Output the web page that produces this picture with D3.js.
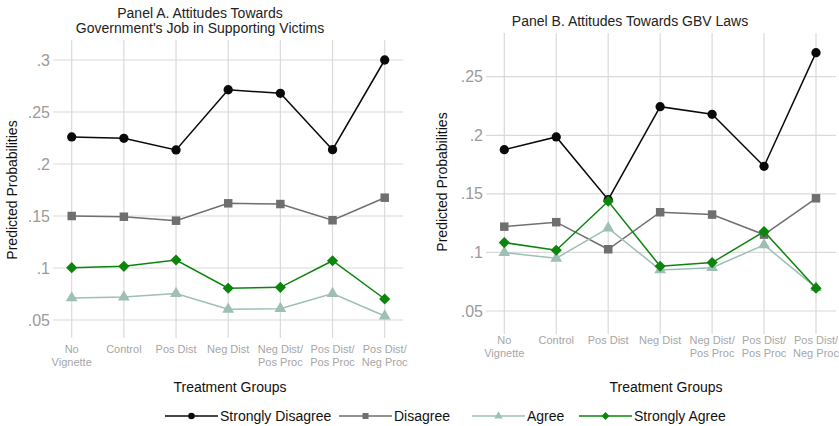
<!DOCTYPE html>
<html>
<head>
<meta charset="utf-8">
<script src="https://cdn.jsdelivr.net/npm/d3@7"></script>
<style>
  html, body { margin: 0; padding: 0; background: #fff; }
  svg { display: block; font-family: "Liberation Sans", Arial, sans-serif; }
</style>
</head>
<body>
<svg id="chart" width="839" height="426"></svg>
<script>
// Treatment groups (x categories); "\n" splits a label over two lines
const groups = ["No\nVignette", "Control", "Pos Dist", "Neg Dist",
                "Neg Dist/\nPos Proc", "Pos Dist/\nPos Proc", "Pos Dist/\nNeg Proc"];

const seriesNames = ["Strongly Disagree", "Disagree", "Agree", "Strongly Agree"];

// Panel A: attitudes towards government's job in supporting victims
const panelA_stronglyDisagree = [0.226, 0.2247, 0.2135, 0.2714, 0.268, 0.2138, 0.300];
const panelA_disagree         = [0.150, 0.1493, 0.1455, 0.1622, 0.1615, 0.1459, 0.1676];
const panelA_agree            = [0.0712, 0.0721, 0.0755, 0.0603, 0.0609, 0.0755, 0.0538];
const panelA_stronglyAgree    = [0.1003, 0.1016, 0.1077, 0.0805, 0.0814, 0.107, 0.0702];
const panelA_ticks = [0.05, 0.1, 0.15, 0.2, 0.25, 0.3];

// Panel B: attitudes towards GBV laws
const panelB_stronglyDisagree = [0.1877, 0.1986, 0.145, 0.2244, 0.2179, 0.1735, 0.2705];
const panelB_disagree         = [0.122, 0.1258, 0.1027, 0.1343, 0.1323, 0.1152, 0.1462];
const panelB_agree            = [0.0998, 0.095, 0.1208, 0.0851, 0.087, 0.1064, 0.070];
const panelB_stronglyAgree    = [0.1084, 0.1019, 0.1437, 0.0882, 0.0913, 0.1178, 0.0695];
const panelB_ticks = [0.05, 0.1, 0.15, 0.2, 0.25];

const tickFormat = v => d3.format(".2~f")(v).replace(/^0/, "");

// marker styles; the diamond is a square turned 45 degrees
const styles = {
  "Strongly Disagree": { color: "#0a0a0a", symbol: d3.symbolCircle,   size: 68, rot: 0 },
  "Disagree":          { color: "#6f6f6f", symbol: d3.symbolSquare,   size: 72, rot: 0 },
  "Agree":             { color: "#9dbfb5", symbol: d3.symbolTriangle, size: 60, rot: 0 },
  "Strongly Agree":    { color: "#0b850b", symbol: d3.symbolSquare,   size: 62, rot: 45 }
};

const svg = d3.select("#chart");

function drawPanel(cfg) {
  const g = svg.append("g");
  const x = d3.scalePoint().domain(groups).range(cfg.xRange);
  const y = d3.scaleLinear().domain(cfg.yDomain).range(cfg.yRange);

  // horizontal grid lines (extend left as tick marks)
  g.append("g").selectAll("line").data(cfg.ticks).join("line")
    .attr("x1", cfg.gridX[0]).attr("x2", cfg.gridX[1])
    .attr("y1", d => y(d)).attr("y2", d => y(d))
    .attr("stroke", "#dadada").attr("stroke-width", 1.2);

  // vertical grid lines (extend below as tick marks)
  g.append("g").selectAll("line").data(groups).join("line")
    .attr("x1", d => x(d)).attr("x2", d => x(d))
    .attr("y1", cfg.gridY[0]).attr("y2", cfg.gridY[1])
    .attr("stroke", "#dadada").attr("stroke-width", 1.2);

  // y tick labels
  g.append("g").selectAll("text").data(cfg.ticks).join("text")
    .attr("x", cfg.gridX[0] - 3).attr("y", d => y(d))
    .attr("dy", "0.35em").attr("text-anchor", "end")
    .attr("font-size", 16).attr("fill", "#9a9a9a")
    .text(tickFormat);

  // x tick labels
  const xl = g.append("g").selectAll("text").data(groups).join("text")
    .attr("x", d => x(d)).attr("y", cfg.xLabelY)
    .attr("text-anchor", "middle").attr("font-size", 11).attr("fill", "#a6a6a6");
  xl.each(function(d) {
    d.split("\n").forEach((line, i) => {
      d3.select(this).append("tspan")
        .attr("x", x(d)).attr("dy", i === 0 ? 0 : 12.5).text(line);
    });
  });

  // series
  cfg.series.forEach((vals, si) => {
    const st = styles[seriesNames[si]];
    const pts = vals.map((v, i) => [x(groups[i]), y(v)]);
    g.append("path").datum(pts)
      .attr("d", d3.line())
      .attr("fill", "none").attr("stroke", st.color).attr("stroke-width", 1.5);
    g.append("g").selectAll("path").data(pts).join("path")
      .attr("transform", d => `translate(${d[0]},${d[1]}) rotate(${st.rot})`)
      .attr("d", d3.symbol(st.symbol, st.size))
      .attr("fill", st.color);
  });

  // title
  const t = g.append("text").attr("text-anchor", "middle")
    .attr("font-size", 14).attr("fill", "#222");
  cfg.title.forEach((line, i) => {
    t.append("tspan").attr("x", cfg.titleX).attr("y", cfg.titleY + i * 15).text(line);
  });

  // axis titles
  g.append("text").attr("x", cfg.xTitleX).attr("y", 392)
    .attr("text-anchor", "middle").attr("font-size", 14).attr("fill", "#111")
    .text("Treatment Groups");
  g.append("text")
    .attr("transform", `translate(${cfg.yTitle[0]},${cfg.yTitle[1]}) rotate(-90)`)
    .attr("text-anchor", "middle").attr("dy", "0.35em")
    .attr("font-size", 14).attr("fill", "#111")
    .text("Predicted Probabilities");
}

drawPanel({
  xRange: [71.7, 384.7], yDomain: [0.05, 0.3], yRange: [320, 60],
  gridX: [53, 403], gridY: [40, 338], ticks: panelA_ticks, xLabelY: 353,
  series: [panelA_stronglyDisagree, panelA_disagree, panelA_agree, panelA_stronglyAgree],
  title: ["Panel A. Attitudes Towards", "Government's Job in Supporting Victims"],
  titleX: 200, titleY: 18, xTitleX: 230, yTitle: [12, 190]
});

drawPanel({
  xRange: [504.3, 816], yDomain: [0.05, 0.25], yRange: [311, 76.7],
  gridX: [486, 836], gridY: [33, 334], ticks: panelB_ticks, xLabelY: 344,
  series: [panelB_stronglyDisagree, panelB_disagree, panelB_agree, panelB_stronglyAgree],
  title: ["Panel B. Attitudes Towards GBV Laws"],
  titleX: 630, titleY: 26, xTitleX: 666, yTitle: [442, 182]
});

// legend
const legendItems = [
  { name: "Strongly Disagree", x0: 165 },
  { name: "Disagree",          x0: 339 },
  { name: "Agree",             x0: 472 },
  { name: "Strongly Agree",    x0: 579 }
];
const ly = 416;
const lg = svg.append("g");
legendItems.forEach(item => {
  const st = styles[item.name];
  lg.append("line").attr("x1", item.x0).attr("x2", item.x0 + 53)
    .attr("y1", ly).attr("y2", ly).attr("stroke", st.color).attr("stroke-width", 1.5);
  lg.append("path").attr("transform", `translate(${item.x0 + 26.5},${ly}) rotate(${st.rot})`)
    .attr("d", d3.symbol(st.symbol, st.size * 0.5)).attr("fill", st.color);
  lg.append("text").attr("x", item.x0 + 55).attr("y", ly).attr("dy", "0.35em")
    .attr("font-size", 14).attr("fill", "#111").text(item.name);
});
</script>
</body>
</html>
